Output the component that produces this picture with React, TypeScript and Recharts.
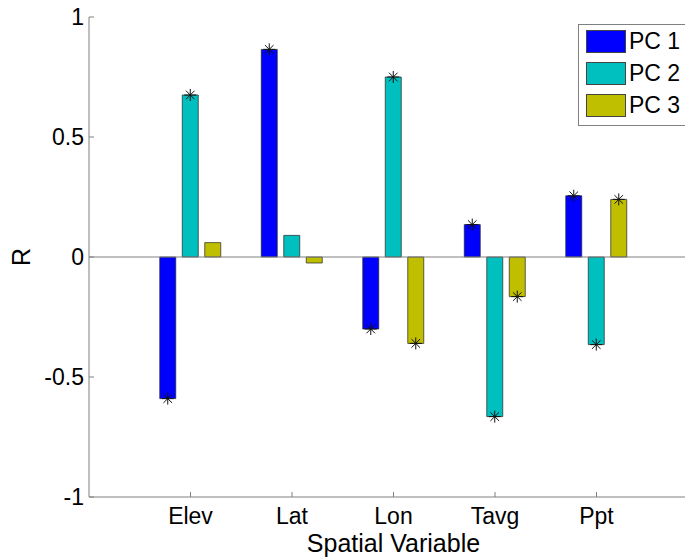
import React from 'react';
import { BarChart, Bar, XAxis, YAxis, ReferenceLine, Legend, LabelList } from 'recharts';

const categories = ['Elev', 'Lat', 'Lon', 'Tavg', 'Ppt'];
const pc1 = [-0.59, 0.865, -0.3, 0.135, 0.255];
const pc2 = [0.675, 0.09, 0.75, -0.665, -0.365];
const pc3 = [0.06, -0.025, -0.36, -0.165, 0.24];
// significance flags (asterisk shown)
const pc1Sig = [true, true, true, true, true];
const pc2Sig = [true, false, true, true, true];
const pc3Sig = [false, false, true, true, true];
const seriesNames = ['PC 1', 'PC 2', 'PC 3'];
const seriesColors = ['#0000FF', '#00BFBF', '#BFBF00'];
const yTicks = [-1, -0.5, 0, 0.5, 1];

const data = categories.map((name, i) => ({
  name,
  pc1: pc1[i],
  pc2: pc2[i],
  pc3: pc3[i],
  pc1Star: pc1Sig[i] ? pc1[i] : null,
  pc2Star: pc2Sig[i] ? pc2[i] : null,
  pc3Star: pc3Sig[i] ? pc3[i] : null,
}));

const FONT = "'Liberation Sans', Arial, Helvetica, sans-serif";
const AXIS_GRAY = '#808080';

const Asterisk = (props: any) => {
  const vb = props.viewBox || {};
  const x = vb.x ?? props.x;
  const y = vb.y ?? props.y;
  const w = vb.width ?? props.width;
  const h = vb.height ?? props.height;
  const value = props.value;
  if (x == null || y == null || value == null || value === '') return null;
  const cx = x + w / 2;
  const y2 = y + h;
  const cy = value >= 0 ? Math.min(y, y2) : Math.max(y, y2);
  const r = 6;
  const d = 4.3;
  return (
    <g stroke="#111" strokeWidth={1}>
      <line x1={cx - r} y1={cy} x2={cx + r} y2={cy} />
      <line x1={cx} y1={cy - r} x2={cx} y2={cy + r} />
      <line x1={cx - d} y1={cy - d} x2={cx + d} y2={cy + d} />
      <line x1={cx - d} y1={cy + d} x2={cx + d} y2={cy - d} />
    </g>
  );
};

const LegendBox = (props: any) => {
  const payload = props.payload && props.payload.length ? props.payload : seriesNames.map((n, i) => ({ value: n, color: seriesColors[i] }));
  return (
    <div
      style={{
        border: `1px solid ${AXIS_GRAY}`,
        background: '#fff',
        padding: '0.5px 0 3px 7px',
        width: 140,
        boxSizing: 'border-box',
      }}
    >
      {payload.map((p: any, i: number) => (
        <div key={i} style={{ display: 'flex', alignItems: 'center', height: 32 }}>
          <div
            style={{
              width: 40,
              height: 23,
              background: seriesColors[i] || p.color,
              border: '1px solid #444',
              boxSizing: 'border-box',
            }}
          />
          <span style={{ marginLeft: 3, fontSize: 23, fontFamily: FONT, lineHeight: '23px', color: '#000' }}>
            {p.value}
          </span>
        </div>
      ))}
    </div>
  );
};

const XLabel = (props: any) => {
  const vb = props.viewBox || { x: 0, y: 0, width: 0, height: 0 };
  return (
    <text x={vb.x + vb.width / 2} y={vb.y + vb.height - 6} textAnchor="middle" fontSize={25} fontFamily={FONT} fill="#000">
      Spatial Variable
    </text>
  );
};

const YLabel = (props: any) => {
  const vb = props.viewBox || { x: 0, y: 0, width: 0, height: 0 };
  const x = vb.x + 30;
  const y = vb.y + vb.height / 2;
  return (
    <text x={x} y={y} transform={`rotate(-90, ${x}, ${y})`} textAnchor="middle" fontSize={25} fontFamily={FONT} fill="#000">
      R
    </text>
  );
};

export default function App() {
  return (
    <div style={{ position: 'absolute', left: 0, top: 0, width: 685, height: 558, overflow: 'hidden', background: '#fff' }}>
      <BarChart
        width={698}
        height={558}
        data={data}
        margin={{ top: 17, right: 0, bottom: 0, left: 0 }}
        barSize={16}
        barGap={6.5}
      >
        <XAxis
          dataKey="name"
          height={61}
          padding={{ left: 50.75, right: 50.75 }}
          interval={0}
          tickSize={-5}
          tickMargin={16}
          axisLine={{ stroke: AXIS_GRAY }}
          tickLine={{ stroke: AXIS_GRAY }}
          tick={{ fill: '#000', fontSize: 23, fontFamily: FONT }}
          label={<XLabel />}
        />
        <XAxis
          xAxisId="top"
          orientation="top"
          dataKey="name"
          height={0}
          padding={{ left: 50.75, right: 50.75 }}
          interval={0}
          tickSize={-5}
          tick={false}
          axisLine={{ stroke: AXIS_GRAY }}
          tickLine={{ stroke: AXIS_GRAY }}
        />
        <YAxis
          type="number"
          domain={[-1, 1]}
          ticks={yTicks}
          width={89}
          tickSize={-5}
          tickMargin={10}
          axisLine={{ stroke: AXIS_GRAY }}
          tickLine={{ stroke: AXIS_GRAY }}
          tick={{ fill: '#000', fontSize: 23, fontFamily: FONT }}
          label={<YLabel />}
        />
        <ReferenceLine y={0} stroke={AXIS_GRAY} strokeWidth={1} />
        <Legend
          layout="vertical"
          align="center"
          verticalAlign="middle"
          content={<LegendBox />}
          wrapperStyle={{ top: 24, left: 578, width: 'auto', height: 'auto' }}
        />
        <Bar dataKey="pc1" name={seriesNames[0]} fill={seriesColors[0]} stroke="#222" strokeWidth={0.7} isAnimationActive={false}>
          <LabelList dataKey="pc1Star" content={<Asterisk />} />
        </Bar>
        <Bar dataKey="pc2" name={seriesNames[1]} fill={seriesColors[1]} stroke="#222" strokeWidth={0.7} isAnimationActive={false}>
          <LabelList dataKey="pc2Star" content={<Asterisk />} />
        </Bar>
        <Bar dataKey="pc3" name={seriesNames[2]} fill={seriesColors[2]} stroke="#222" strokeWidth={0.7} isAnimationActive={false}>
          <LabelList dataKey="pc3Star" content={<Asterisk />} />
        </Bar>
      </BarChart>
    </div>
  );
}
